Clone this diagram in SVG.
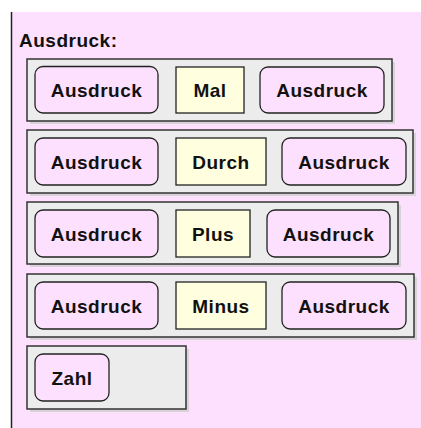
<svg xmlns="http://www.w3.org/2000/svg" width="421" height="428" viewBox="0 0 421 428">
<style>
.bg{fill:#fde0fd}
.row{fill:#ececec;stroke:#333;stroke-width:1.5}
.sh{fill:#d9d2d9}
.pill{fill:#fde0fd;stroke:#222;stroke-width:1.3}
.op{fill:#ffffe0;stroke:#222;stroke-width:1.3}
text{font-family:"Liberation Sans",Arial,sans-serif;font-weight:bold;font-size:19px;fill:#111;letter-spacing:0.5px}
.c{text-anchor:middle}
</style>
<rect x="0" y="0" width="421" height="428" fill="#fff"/>
<rect class="bg" x="12" y="12" width="409" height="416"/>
<line x1="11.5" y1="12" x2="11.5" y2="428" stroke="#222" stroke-width="1.5"/>
<text x="19" y="47">Ausdruck:</text>

<g id="row1">
<rect class="sh" x="30" y="62" width="365" height="62"/>
<rect class="row" x="27" y="59" width="365" height="62"/>
<g id="r1a"><rect class="pill" x="35" y="66.5" width="123" height="46.5" rx="8"/><text class="c" x="96.5" y="97">Ausdruck</text></g>
<g id="r1op"><rect class="op" x="176" y="67" width="68" height="46"/><text class="c" x="210" y="97">Mal</text></g>
<g id="r1b"><rect class="pill" x="260" y="67" width="124" height="46" rx="8"/><text class="c" x="322" y="97">Ausdruck</text></g>
</g>

<g id="row2">
<rect class="sh" x="30" y="133" width="386" height="63"/>
<rect class="row" x="27" y="130" width="386" height="63"/>
<g id="r2a"><rect class="pill" x="35" y="138" width="123" height="47" rx="8"/><text class="c" x="96.5" y="169">Ausdruck</text></g>
<g id="r2op"><rect class="op" x="176" y="138" width="90" height="47"/><text class="c" x="221" y="169">Durch</text></g>
<g id="r2b"><rect class="pill" x="282" y="138" width="124" height="47" rx="8"/><text class="c" x="344" y="169">Ausdruck</text></g>
</g>

<g id="row3">
<rect class="sh" x="30" y="205" width="371" height="62"/>
<rect class="row" x="27" y="202" width="371" height="62"/>
<g id="r3a"><rect class="pill" x="35" y="210" width="123" height="47" rx="8"/><text class="c" x="96.5" y="241">Ausdruck</text></g>
<g id="r3op"><rect class="op" x="176" y="210" width="74" height="47"/><text class="c" x="213" y="241">Plus</text></g>
<g id="r3b"><rect class="pill" x="267" y="210" width="123" height="47" rx="8"/><text class="c" x="328.5" y="241">Ausdruck</text></g>
</g>

<g id="row4">
<rect class="sh" x="30" y="277" width="387" height="63"/>
<rect class="row" x="27" y="274" width="387" height="63"/>
<g id="r4a"><rect class="pill" x="35" y="282" width="123" height="47" rx="8"/><text class="c" x="96.5" y="313">Ausdruck</text></g>
<g id="r4op"><rect class="op" x="176" y="282" width="90" height="47"/><text class="c" x="221" y="313">Minus</text></g>
<g id="r4b"><rect class="pill" x="282" y="282" width="124" height="47" rx="8"/><text class="c" x="344" y="313">Ausdruck</text></g>
</g>

<g id="row5">
<rect class="sh" x="30" y="349" width="159" height="63"/>
<rect class="row" x="27" y="346" width="159" height="63"/>
<g id="zahl"><rect class="pill" x="35" y="354" width="74" height="47" rx="8"/><text class="c" x="72" y="385">Zahl</text></g>
</g>
</svg>
